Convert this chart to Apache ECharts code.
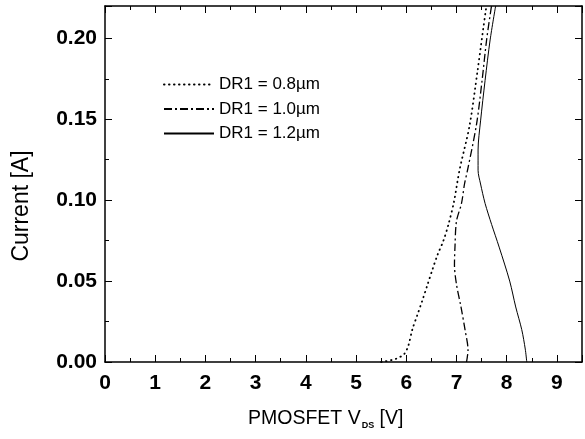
<!DOCTYPE html>
<html><head><meta charset="utf-8">
<script src="https://cdn.jsdelivr.net/npm/echarts@6/dist/echarts.min.js"></script>
<style>html,body{margin:0;padding:0;background:#fff}#c{width:585px;height:439px}</style>
</head><body><div id="c"></div>
<script>
const seriesNames = ['DR1 = 0.8\u00b5m', 'DR1 = 1.0\u00b5m', 'DR1 = 1.2\u00b5m'];
const vds08 = [5.5, 5.8, 5.96, 6.04, 6.12, 6.22, 6.32, 6.42, 6.52, 6.62, 6.74, 6.84, 6.95, 7.06, 7.26, 7.42, 7.59, 7.61];
const cur08 = [0.0, 0.002, 0.005, 0.01, 0.02, 0.029, 0.038, 0.0475, 0.057, 0.066, 0.075, 0.085, 0.099, 0.1185, 0.146, 0.18, 0.2185, 0.22];
const vds10 = [7.2, 7.23, 7.17, 7.09, 7.0, 6.96, 6.97, 7.0, 7.1, 7.16, 7.22, 7.4, 7.51, 7.6, 7.69, 7.7];
const cur10 = [0.0, 0.0074, 0.02, 0.034, 0.048, 0.06, 0.071, 0.087, 0.098, 0.11, 0.1185, 0.147, 0.174, 0.199, 0.2185, 0.22];
const vds12 = [8.4, 8.37, 8.3, 8.18, 8.06, 7.85, 7.7, 7.57, 7.48, 7.43, 7.43, 7.48, 7.57, 7.67, 7.78];
const cur12 = [0.0, 0.008, 0.02, 0.034, 0.05, 0.071, 0.085, 0.098, 0.11, 0.1185, 0.131, 0.149, 0.174, 0.199, 0.22];
const xTickLabels = ['0','1','2','3','4','5','6','7','8','9'];
const yTickLabels = ['0.00','0.05','0.10','0.15','0.20'];

function pairs(xs, ys){ return xs.map((x,i)=>[x, ys[i]]); }

const chart = echarts.init(document.getElementById('c'), null, {renderer:'canvas'});
const font = 'Liberation Sans, Arial, sans-serif';
function tick(){ return {show:true, inside:true, length:7, lineStyle:{color:'#000', width:1}}; }
function minor(){ return {show:true, splitNumber:2, length:4, lineStyle:{color:'#000', width:1}}; }
function axLine(){ return {show:true, onZero:false, lineStyle:{color:'#000', width:1.5}}; }
chart.setOption({
  animation:false,
  backgroundColor:'#fff',
  grid:{left:105, right:2, top:6, bottom:77, containLabel:false},
  legend:{
    orient:'vertical', left:163, top:76, padding:0, itemWidth:50, itemHeight:14, itemGap:7.5,
    itemStyle:{opacity:0},
    textStyle:{fontFamily:font, fontSize:17, color:'#000'},
    data:seriesNames
  },
  xAxis:[{
    type:'value', min:0, max:9.5, interval:1, position:'bottom',
    axisLine:axLine(), axisTick:tick(), minorTick:minor(), splitLine:{show:false},
    axisLabel:{show:true, margin:11, fontFamily:font, fontWeight:'bold', fontSize:21, color:'#000',
      formatter:function(v){ const i=Math.round(v); return (Math.abs(v-i)<1e-6 && i<xTickLabels.length)? xTickLabels[i] : ''; }}
  },{
    type:'value', min:0, max:9.5, interval:1, position:'top',
    axisLine:axLine(), axisTick:tick(), minorTick:minor(), splitLine:{show:false}, axisLabel:{show:false}
  }],
  yAxis:[{
    type:'value', min:0, max:0.22, interval:0.05, position:'left',
    axisLine:axLine(), axisTick:tick(), minorTick:minor(), splitLine:{show:false},
    axisLabel:{show:true, margin:8, fontFamily:font, fontWeight:'bold', fontSize:21, color:'#000',
      formatter:function(v){ const i=Math.round(v/0.05); return (Math.abs(v-i*0.05)<1e-6 && i<yTickLabels.length)? yTickLabels[i] : ''; }}
  },{
    type:'value', min:0, max:0.22, interval:0.05, position:'right',
    axisLine:axLine(), axisTick:tick(), minorTick:minor(), splitLine:{show:false}, axisLabel:{show:false}
  }],
  graphic:[
    {type:'text', x:248, y:407, style:{
      text:'{n|PMOSFET V}{s|DS}{n| [V]}',
      rich:{n:{fontFamily:font, fontSize:19.5, color:'#000'}, s:{fontFamily:font, fontSize:9, fontWeight:'bold', color:'#000', padding:[14,0,0,1]}}
    }},
    {type:'text', rotation:Math.PI/2, x:22, y:206, style:{text:'Current [A]', fontFamily:font, fontSize:23, fill:'#000', align:'center', verticalAlign:'middle'}}
  ],
  series:[
    {name:seriesNames[0], type:'line', data:pairs(vds08,cur08), showSymbol:false, symbol:'none', smooth:0.3,
      lineStyle:{color:'#000', width:1.8, type:[0.5,4.5], cap:'round'}, itemStyle:{color:'#000'}},
    {name:seriesNames[1], type:'line', data:pairs(vds10,cur10), showSymbol:false, symbol:'none', smooth:0.3,
      lineStyle:{color:'#000', width:1.3, type:[8,3,2,3]}, itemStyle:{color:'#000'}},
    {name:seriesNames[2], type:'line', data:pairs(vds12,cur12), showSymbol:false, symbol:'none', smooth:0.3,
      lineStyle:{color:'#000', width:1}, itemStyle:{color:'#000'}}
  ]
});
</script></body></html>
